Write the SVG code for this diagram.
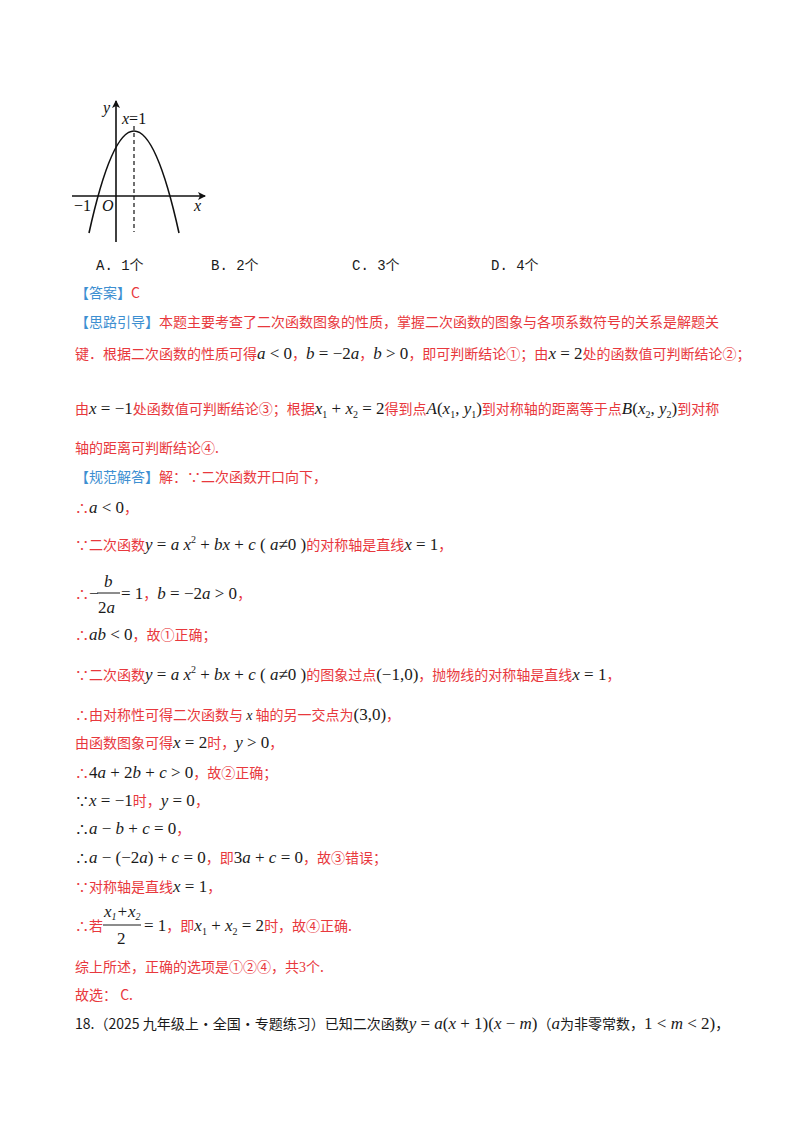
<svg xmlns="http://www.w3.org/2000/svg" width="800" height="1132" viewBox="0 0 800 1132">
<style>
text{font-family:"Noto Sans CJK SC","Liberation Sans",sans-serif;font-size:14px;fill:#e8383d}
.k{fill:#1a1a1a}
.b{fill:#3d8fd1}
.m{font-family:"Liberation Serif",serif;font-style:italic;font-size:17px;fill:#1a1a1a}
.n{font-family:"Liberation Serif",serif;font-size:17px;fill:#1a1a1a}
.s{font-size:10px}
.opt{font-family:"Liberation Mono","Noto Sans CJK SC",monospace;fill:#1a1a1a;font-size:14px}
.ax{stroke:#111;stroke-width:1.6;fill:none}
</style>
<defs><marker id="ar" markerWidth="8" markerHeight="8" refX="7" refY="4" orient="auto" markerUnits="userSpaceOnUse"><path d="M0,0 L8,4 L0,8 L2,4 Z" fill="#111"/></marker></defs>
<rect width="800" height="1132" fill="#fff"/>
<g id="graph">
<line class="ax" x1="116" y1="242" x2="116" y2="101" marker-end="url(#ar)"/>
<line class="ax" x1="72" y1="196" x2="205" y2="196" marker-end="url(#ar)"/>
<line x1="134" y1="126" x2="134" y2="232" stroke="#111" stroke-width="1.2" stroke-dasharray="4,3"/>
<path d="M89,233 Q134,29 179,233" class="ax" stroke-width="1.4"/>
<text x="103" y="113" style="font-family:'Liberation Serif',serif;font-style:italic;font-size:16px;fill:#111">y</text>
<text x="122" y="124" style="font-family:'Liberation Serif',serif;font-size:16px;fill:#111"><tspan font-style="italic">x</tspan>=1</text>
<text x="194" y="211" style="font-family:'Liberation Serif',serif;font-style:italic;font-size:16px;fill:#111">x</text>
<text x="102" y="211" style="font-family:'Liberation Serif',serif;font-style:italic;font-size:16px;fill:#111">O</text>
<text x="74" y="211" style="font-family:'Liberation Serif',serif;font-size:16px;fill:#111">−1</text>
</g>
<g id="text">
<text class="opt" x="96" y="270">A. 1个</text>
<text class="opt" x="211" y="270">B. 2个</text>
<text class="opt" x="352" y="270">C. 3个</text>
<text class="opt" x="491" y="270">D. 4个</text>
<text x="75" y="298"><tspan class="b">【答案】</tspan>C</text>
<text x="75" y="327"><tspan class="b">【思路引导】</tspan>本题主要考查了二次函数图象的性质，掌握二次函数的图象与各项系数符号的关系是解题关</text>
<text x="75" y="359">键．根据二次函数的性质可得<tspan class="m">a</tspan><tspan class="n"> &lt; 0</tspan>，<tspan class="m">b</tspan><tspan class="n"> = −2</tspan><tspan class="m">a</tspan>，<tspan class="m">b</tspan><tspan class="n"> &gt; 0</tspan>，即可判断结论①；由<tspan class="m">x</tspan><tspan class="n"> = 2</tspan>处的函数值可判断结论②；</text>
<text x="75" y="414">由<tspan class="m">x</tspan><tspan class="n"> = −1</tspan>处函数值可判断结论③；根据<tspan class="m">x</tspan><tspan class="n s" dy="4">1</tspan><tspan class="n" dy="-4"> + </tspan><tspan class="m">x</tspan><tspan class="n s" dy="4">2</tspan><tspan class="n" dy="-4"> = 2</tspan>得到点<tspan class="m">A</tspan><tspan class="n">(</tspan><tspan class="m">x</tspan><tspan class="n s" dy="4">1</tspan><tspan class="n" dy="-4">, </tspan><tspan class="m">y</tspan><tspan class="n s" dy="4">1</tspan><tspan class="n" dy="-4">)</tspan>到对称轴的距离等于点<tspan class="m">B</tspan><tspan class="n">(</tspan><tspan class="m">x</tspan><tspan class="n s" dy="4">2</tspan><tspan class="n" dy="-4">, </tspan><tspan class="m">y</tspan><tspan class="n s" dy="4">2</tspan><tspan class="n" dy="-4">)</tspan>到对称</text>
<text x="75" y="453">轴的距离可判断结论④.</text>
<text x="75" y="482"><tspan class="b">【规范解答】</tspan>解：∵二次函数开口向下，</text>
<text x="75" y="513">∴<tspan class="m">a</tspan><tspan class="n"> &lt; 0</tspan>，</text>
<text x="75" y="550">∵二次函数<tspan class="m">y</tspan><tspan class="n"> = </tspan><tspan class="m">a x</tspan><tspan class="n s" dy="-7">2</tspan><tspan class="n" dy="7"> + </tspan><tspan class="m">bx</tspan><tspan class="n"> + </tspan><tspan class="m">c</tspan><tspan class="n"> ( </tspan><tspan class="m">a</tspan><tspan class="n">≠0 )</tspan>的对称轴是直线<tspan class="m">x</tspan><tspan class="n"> = 1</tspan>，</text>
<text x="75" y="599">∴<tspan class="n">−</tspan></text>
<text class="m" x="104" y="587">b</text>
<line x1="97" y1="593" x2="120" y2="593" stroke="#1a1a1a" stroke-width="1"/>
<text class="n" x="98" y="613">2<tspan class="m">a</tspan></text>
<text x="121" y="599"><tspan class="n">= 1</tspan>，<tspan class="m">b</tspan><tspan class="n"> = −2</tspan><tspan class="m">a</tspan><tspan class="n"> &gt; 0</tspan>，</text>
<text x="75" y="640">∴<tspan class="m">ab</tspan><tspan class="n"> &lt; 0</tspan>，故①正确；</text>
<text x="75" y="680">∵二次函数<tspan class="m">y</tspan><tspan class="n"> = </tspan><tspan class="m">a x</tspan><tspan class="n s" dy="-7">2</tspan><tspan class="n" dy="7"> + </tspan><tspan class="m">bx</tspan><tspan class="n"> + </tspan><tspan class="m">c</tspan><tspan class="n"> ( </tspan><tspan class="m">a</tspan><tspan class="n">≠0 )</tspan>的图象过点<tspan class="n">(−1,0)</tspan>，抛物线的对称轴是直线<tspan class="m">x</tspan><tspan class="n"> = 1</tspan>，</text>
<text x="75" y="720">∴由对称性可得二次函数与 <tspan class="m" style="font-size:14px">x</tspan> 轴的另一交点为<tspan class="n">(3,0)</tspan>，</text>
<text x="75" y="748">由函数图象可得<tspan class="m">x</tspan><tspan class="n"> = 2</tspan>时，<tspan class="m">y</tspan><tspan class="n"> &gt; 0</tspan>，</text>
<text x="75" y="778">∴<tspan class="n">4</tspan><tspan class="m">a</tspan><tspan class="n"> + 2</tspan><tspan class="m">b</tspan><tspan class="n"> + </tspan><tspan class="m">c</tspan><tspan class="n"> &gt; 0</tspan>，故②正确；</text>
<text x="75" y="806"><tspan class="k">∵</tspan><tspan class="m">x</tspan><tspan class="n"> = −1</tspan>时，<tspan class="m">y</tspan><tspan class="n"> = 0</tspan>，</text>
<text x="75" y="834"><tspan class="k">∴</tspan><tspan class="m">a</tspan><tspan class="n"> − </tspan><tspan class="m">b</tspan><tspan class="n"> + </tspan><tspan class="m">c</tspan><tspan class="n"> = 0</tspan>，</text>
<text x="75" y="863"><tspan class="k">∴</tspan><tspan class="m">a</tspan><tspan class="n"> − (−2</tspan><tspan class="m">a</tspan><tspan class="n">) + </tspan><tspan class="m">c</tspan><tspan class="n"> = 0</tspan>，即<tspan class="n">3</tspan><tspan class="m">a</tspan><tspan class="n"> + </tspan><tspan class="m">c</tspan><tspan class="n"> = 0</tspan>，故③错误；</text>
<text x="75" y="892">∵对称轴是直线<tspan class="m">x</tspan><tspan class="n"> = 1</tspan>，</text>
<text x="75" y="931">∴若</text>
<text class="m" x="104" y="917">x<tspan class="n s" dy="3">1</tspan><tspan class="n" dy="-3">+</tspan>x<tspan class="n s" dy="3">2</tspan></text>
<line x1="103" y1="925" x2="141" y2="925" stroke="#1a1a1a" stroke-width="1"/>
<text class="n" x="117" y="944">2</text>
<text x="144" y="931"><tspan class="n">= 1</tspan>，即<tspan class="m">x</tspan><tspan class="n s" dy="4">1</tspan><tspan class="n" dy="-4"> + </tspan><tspan class="m">x</tspan><tspan class="n s" dy="4">2</tspan><tspan class="n" dy="-4"> = 2</tspan>时，故④正确.</text>
<text x="75" y="972">综上所述，正确的选项是①②④，共<tspan style="font-family:'Liberation Serif',serif">3</tspan>个.</text>
<text x="75" y="1000">故选： C.</text>
<text x="75" y="1029" class="k">18.（2025 九年级上·全国·专题练习）已知二次函数<tspan class="m">y</tspan><tspan class="n"> = </tspan><tspan class="m">a</tspan><tspan class="n">(</tspan><tspan class="m">x</tspan><tspan class="n"> + 1)(</tspan><tspan class="m">x</tspan><tspan class="n"> − </tspan><tspan class="m">m</tspan><tspan class="n">)</tspan>（<tspan class="m">a</tspan>为非零常数，<tspan class="n">1 &lt; </tspan><tspan class="m">m</tspan><tspan class="n"> &lt; 2)</tspan>，</text>
</g>
</svg>
